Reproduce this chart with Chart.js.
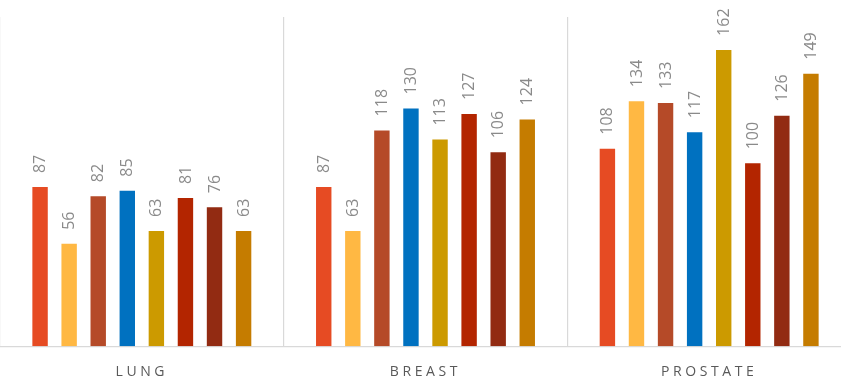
<!DOCTYPE html>
<html>
<head>
<meta charset="utf-8">
<script src="https://cdn.jsdelivr.net/npm/chart.js@4/dist/chart.umd.min.js"></script>
<style>
  html, body { margin: 0; padding: 0; background: #ffffff; overflow: hidden; }
  #wrap { position: absolute; left: 0; top: 0; width: 851px; height: 379px; }
</style>
</head>
<body>
<div id="wrap"><canvas id="c"></canvas></div>
<script>
// Cancer sites along the x axis
const categories = ['LUNG', 'BREAST', 'PROSTATE'];

// One series per bar position inside each site group
const seriesNames = ['S1', 'S2', 'S3', 'S4', 'S5', 'S6', 'S7', 'S8'];
const s1 = [87, 87, 108];
const s2 = [56, 63, 134];
const s3 = [82, 118, 133];
const s4 = [85, 130, 117];
const s5 = [63, 113, 162];
const s6 = [81, 127, 100];
const s7 = [76, 106, 126];
const s8 = [63, 124, 149];

const seriesValues = [s1, s2, s3, s4, s5, s6, s7, s8];
const seriesColors = ['#E64B23', '#FFB843', '#B54A28', '#0071C0', '#CC9A00', '#B32500', '#922B12', '#C57C00'];

const yMax = 180;

// Rotated value labels above each bar
const barValueLabels = {
  id: 'barValueLabels',
  afterDatasetsDraw(chart) {
    const ctx = chart.ctx;
    ctx.save();
    ctx.letterSpacing = '0px';
    ctx.font = '16px "Open Sans", sans-serif';
    ctx.fillStyle = '#8a8a8a';
    ctx.textAlign = 'left';
    ctx.textBaseline = 'middle';
    chart.data.datasets.forEach((ds, i) => {
      const meta = chart.getDatasetMeta(i);
      meta.data.forEach((bar, j) => {
        ctx.save();
        ctx.translate(bar.x, bar.y - 14);
        ctx.rotate(-Math.PI / 2);
        ctx.fillText(String(ds.data[j]), 0, 0.5);
        ctx.restore();
      });
    });
    ctx.restore();
  }
};

// Spaced-out category captions
const spacedTicks = {
  id: 'spacedTicks',
  beforeDraw(chart) {
    chart.ctx.letterSpacing = '3.6px';
  }
};

new Chart(document.getElementById('c'), {
  type: 'bar',
  data: {
    labels: categories,
    datasets: seriesValues.map((vals, i) => ({
      label: seriesNames[i],
      data: vals,
      backgroundColor: seriesColors[i],
      borderWidth: 0,
      categoryPercentage: 0.82,
      barPercentage: 0.53
    }))
  },
  options: {
    responsive: true,
    maintainAspectRatio: false,
    animation: false,
    layout: { padding: { top: 17, left: 0, right: 0, bottom: -18 } },
    plugins: {
      legend: { display: false },
      tooltip: { enabled: false }
    },
    scales: {
      x: {
        offset: true,
        grid: {
          display: true,
          offset: true,
          color: '#d9d9d9',
          lineWidth: 1.2,
          drawTicks: false
        },
        border: { display: true, color: '#d9d9d9', width: 1.2 },
        ticks: {
          color: '#595959',
          font: { family: '"Open Sans", sans-serif', size: 14 },
          padding: 17,
          maxRotation: 0
        }
      },
      y: {
        display: false,
        min: 0,
        max: yMax,
        grid: { display: false }
      }
    }
  },
  plugins: [spacedTicks, barValueLabels]
});
</script>
</body>
</html>
